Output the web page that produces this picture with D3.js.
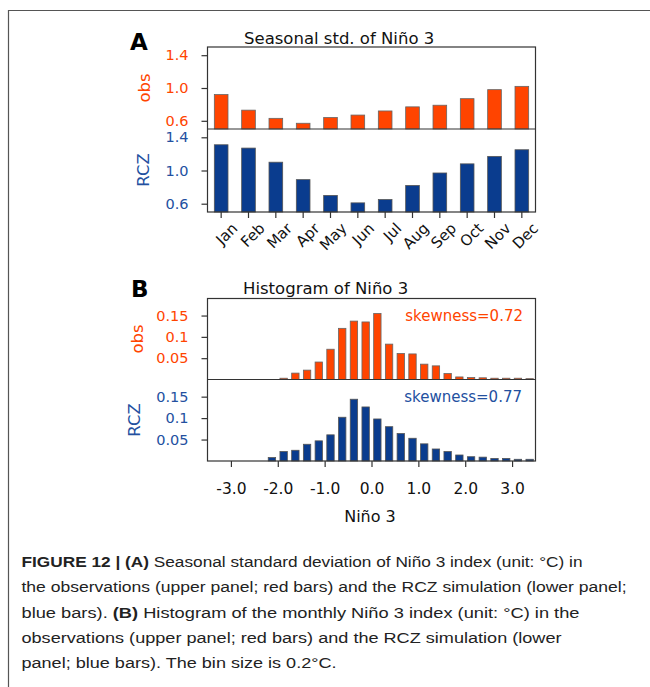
<!DOCTYPE html>
<html>
<head>
<meta charset="utf-8">
<title>Seasonal std and histogram of Niño 3</title>
<script src="https://d3js.org/d3.v7.min.js"></script>
<style>
    body { margin: 0; background: #fff; }
    svg text { font-family: "DejaVu Sans", "Liberation Sans", sans-serif; }
    .box { fill: none; stroke: #333; stroke-width: 1.2px; }
    .axis line { stroke: #333; stroke-width: 1.2px; }
    .axis text { font-size: 14.5px; }
    .obsbar { fill: #ff4400; stroke: #666; stroke-width: 0.8px; }
    .rczbar { fill: #0a3c8e; stroke: #555; stroke-width: 0.8px; }
    .title { font-size: 16.5px; fill: #111; }
    .caption { font-family: "Liberation Sans Narrow", "Liberation Sans", sans-serif !important; font-size: 15.5px; fill: #222; }
</style>
</head>
<body>
<script>
    // panel A: seasonal std of Nino 3
    const months = ["Jan", "Feb", "Mar", "Apr", "May", "Jun", "Jul", "Aug", "Sep", "Oct", "Nov", "Dec"];
    const obsStd = [0.92, 0.73, 0.63, 0.57, 0.64, 0.67, 0.72, 0.77, 0.79, 0.87, 0.98, 1.02];
    const rczStd = [1.31, 1.27, 1.10, 0.89, 0.70, 0.61, 0.65, 0.82, 0.97, 1.08, 1.17, 1.25];
    const stdTicks = [0.6, 1.0, 1.4];

    // panel B: histograms (bin centers)
    const binCenters = [-3.375, -3.125, -2.875, -2.625, -2.375, -2.125, -1.875, -1.625, -1.375, -1.125,
        -0.875, -0.625, -0.375, -0.125, 0.125, 0.375, 0.625, 0.875, 1.125, 1.375,
        1.625, 1.875, 2.125, 2.375, 2.625, 2.875, 3.125, 3.375];
    const obsFreq = [0, 0, 0, 0, 0, 0, 0.003, 0.015, 0.022, 0.041,
        0.071, 0.120, 0.137, 0.135, 0.155, 0.083, 0.061, 0.060, 0.036, 0.032,
        0.014, 0.006, 0.0045, 0.004, 0.003, 0.003, 0.003, 0.002];
    const rczFreq = [0, 0, 0, 0, 0, 0.008, 0.022, 0.025, 0.039, 0.047,
        0.061, 0.102, 0.144, 0.126, 0.098, 0.080, 0.064, 0.053, 0.040, 0.028,
        0.022, 0.014, 0.010, 0.009, 0.006, 0.006, 0.004, 0.004];
    const freqTicks = [0.05, 0.1, 0.15];
    const ninoTicks = [-3, -2, -1, 0, 1, 2, 3];
    const skewObs = "skewness=0.72";
    const skewRcz = "skewness=0.77";

    const captionLines = [
        [["FIGURE 12 | (A)", true], [" Seasonal standard deviation of Niño 3 index (unit: °C) in", false]],
        [["the observations (upper panel; red bars) and the RCZ simulation (lower panel;", false]],
        [["blue bars). ", false], ["(B)", true], [" Histogram of the monthly Niño 3 index (unit: °C) in the", false]],
        [["observations (upper panel; red bars) and the RCZ simulation (lower", false]],
        [["panel; blue bars). The bin size is 0.2°C.", false]]
    ];
    const captionWidths = [561, 605, 558, 540, 315];

    const orange = "#ff4400";
    const blue = "#23509f";

    const width = 650, height = 687;
    const left = 207.5, right = 535.5;

    const svg = d3.select("body").append("svg")
        .attr("width", width)
        .attr("height", height);

    // outer frame
    svg.append("path")
        .attr("d", "M8.5,687V10.5H650")
        .attr("fill", "none")
        .attr("stroke", "#555")
        .attr("stroke-width", 1.2);

    function yAxis(scale, ticks, fmt, color) {
        const g = svg.append("g")
            .attr("class", "axis")
            .attr("transform", "translate(" + left + ",0)")
            .call(d3.axisLeft(scale).tickValues(ticks).tickFormat(fmt).tickSize(6).tickPadding(13));
        g.select(".domain").remove();
        g.selectAll("text").attr("fill", color);
        return g;
    }

    function sideLabel(txt, x, y, color) {
        svg.append("text")
            .attr("transform", "translate(" + x + "," + y + ") rotate(-90)")
            .attr("text-anchor", "middle")
            .attr("dy", "0.36em")
            .attr("fill", color)
            .style("font-size", "16.5px")
            .text(txt);
    }

    ///////////
    // A     //
    ///////////
    const xA = d3.scaleBand().domain(months).range([left, right]).paddingInner(0.5).paddingOuter(0.25);
    const yAobs = d3.scaleLinear().domain([0.5, 1.5]).range([129, 47]);
    const yArcz = d3.scaleLinear().domain([0.5, 1.5]).range([212, 129]);

    svg.append("g").selectAll("rect")
        .data(obsStd)
        .join("rect")
        .attr("class", "obsbar")
        .attr("x", (d, i) => xA(months[i]))
        .attr("y", d => yAobs(d))
        .attr("width", xA.bandwidth())
        .attr("height", d => yAobs(0.5) - yAobs(d));

    svg.append("g").selectAll("rect")
        .data(rczStd)
        .join("rect")
        .attr("class", "rczbar")
        .attr("x", (d, i) => xA(months[i]))
        .attr("y", d => yArcz(d))
        .attr("width", xA.bandwidth())
        .attr("height", d => yArcz(0.5) - yArcz(d));

    yAxis(yAobs, stdTicks, d3.format(".1f"), orange);
    yAxis(yArcz, stdTicks, d3.format(".1f"), blue);

    const xAxisA = svg.append("g")
        .attr("class", "axis")
        .attr("transform", "translate(0,212)")
        .call(d3.axisBottom(xA).tickSize(6));
    xAxisA.select(".domain").remove();
    xAxisA.selectAll("text")
        .attr("y", 0)
        .attr("dy", "0.36em")
        .attr("transform", "translate(13.5,13.5) rotate(-45)")
        .style("text-anchor", "end")
        .style("font-size", "15px")
        .attr("fill", "#111");

    svg.append("rect").attr("class", "box")
        .attr("x", left).attr("y", 47).attr("width", right - left).attr("height", 212 - 47);
    svg.append("line").attr("class", "box")
        .attr("x1", left).attr("x2", right).attr("y1", 129).attr("y2", 129);

    sideLabel("obs", 144, 88, orange);
    sideLabel("RCZ", 143.5, 170, blue);

    svg.append("text").attr("class", "title")
        .attr("x", 244).attr("y", 44).text("Seasonal std. of Niño 3");
    svg.append("text")
        .attr("x", 130).attr("y", 50)
        .style("font-size", "23px").style("font-weight", "bold")
        .text("A");

    ///////////
    // B     //
    ///////////
    const xB = d3.scaleLinear().domain([-3.5, 3.5]).range([left, right]);
    const yBobs = d3.scaleLinear().domain([0, 0.19]).range([379.5, 298.5]);
    const yBrcz = d3.scaleLinear().domain([0, 0.19]).range([461, 379.5]);
    const barW = (xB(0.25) - xB(0)) * 0.63;

    svg.append("g").selectAll("rect")
        .data(binCenters.map((c, i) => [c, obsFreq[i]]).filter(d => d[1] > 0))
        .join("rect")
        .attr("class", "obsbar")
        .attr("x", d => xB(d[0]) - barW / 2)
        .attr("y", d => yBobs(d[1]))
        .attr("width", barW)
        .attr("height", d => yBobs(0) - yBobs(d[1]));

    svg.append("g").selectAll("rect")
        .data(binCenters.map((c, i) => [c, rczFreq[i]]).filter(d => d[1] > 0))
        .join("rect")
        .attr("class", "rczbar")
        .attr("x", d => xB(d[0]) - barW / 2)
        .attr("y", d => yBrcz(d[1]))
        .attr("width", barW)
        .attr("height", d => yBrcz(0) - yBrcz(d[1]));

    yAxis(yBobs, freqTicks, d => String(d), orange);
    yAxis(yBrcz, freqTicks, d => String(d), blue);

    const xAxisB = svg.append("g")
        .attr("class", "axis")
        .attr("transform", "translate(0,461)")
        .call(d3.axisBottom(xB).tickValues(ninoTicks).tickFormat(d => d.toFixed(1)).tickSize(6).tickPadding(16));
    xAxisB.select(".domain").remove();
    xAxisB.selectAll("text").style("font-size", "15.5px").attr("fill", "#111");

    svg.append("rect").attr("class", "box")
        .attr("x", left).attr("y", 298.5).attr("width", right - left).attr("height", 461 - 298.5);
    svg.append("line").attr("class", "box")
        .attr("x1", left).attr("x2", right).attr("y1", 379.5).attr("y2", 379.5);

    sideLabel("obs", 137, 339, orange);
    sideLabel("RCZ", 134, 420, blue);

    svg.append("text").attr("text-anchor", "end")
        .attr("x", 523).attr("y", 320.5).attr("fill", orange)
        .style("font-size", "15px").text(skewObs);
    svg.append("text").attr("text-anchor", "end")
        .attr("x", 522).attr("y", 402).attr("fill", blue)
        .style("font-size", "15px").text(skewRcz);

    svg.append("text").attr("text-anchor", "middle")
        .attr("x", 370).attr("y", 522)
        .style("font-size", "16px").attr("fill", "#111")
        .text("Niño 3");

    svg.append("text").attr("class", "title")
        .attr("x", 243).attr("y", 294).text("Histogram of Niño 3");
    svg.append("text")
        .attr("x", 131).attr("y", 297)
        .style("font-size", "23px").style("font-weight", "bold")
        .text("B");

    // caption
    captionLines.forEach((parts, i) => {
        const t = svg.append("text")
            .attr("class", "caption")
            .attr("x", 21.5)
            .attr("y", 566.7 + i * 25.4)
            .attr("textLength", captionWidths[i])
            .attr("lengthAdjust", "spacingAndGlyphs");
        parts.forEach(p => {
            t.append("tspan")
                .style("font-weight", p[1] ? "bold" : "normal")
                .text(p[0]);
        });
    });
</script>
</body>
</html>
